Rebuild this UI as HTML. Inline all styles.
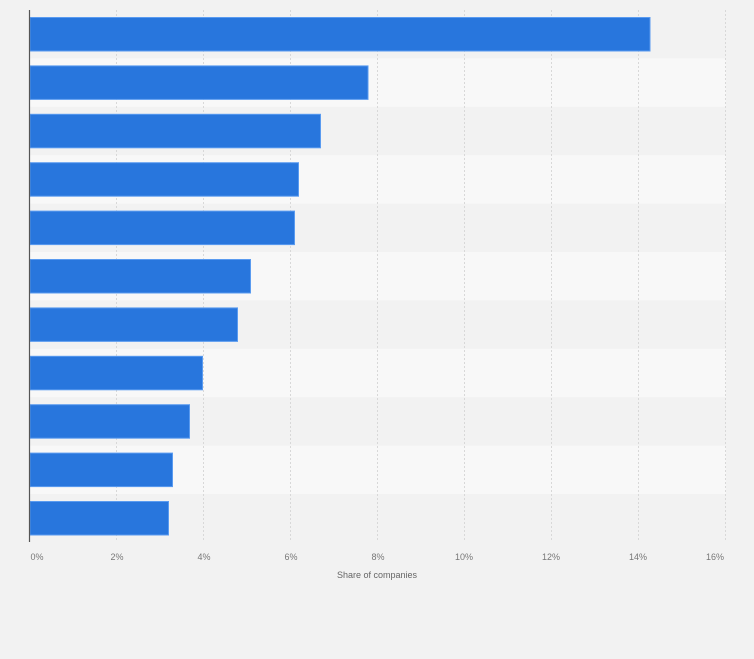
<!DOCTYPE html>
<html><head><style>
body{margin:0;background:#f2f2f2;}
svg{display:block;font-family:"Liberation Sans",sans-serif;}
</style></head><body>
<svg width="754" height="659" viewBox="0 0 754 659">
<rect width="754" height="659" fill="#f2f2f2"/>
<g fill="#f8f8f8">
<rect x="30" y="58.4" width="696" height="48.4"/>
<rect x="30" y="155.2" width="696" height="48.4"/>
<rect x="30" y="252" width="696" height="48.4"/>
<rect x="30" y="348.8" width="696" height="48.4"/>
<rect x="30" y="445.6" width="696" height="48.4"/>
</g>
<g stroke="#d8d8d8" stroke-dasharray="2,2" stroke-width="1">
<line x1="116.5" y1="10" x2="116.5" y2="542"/>
<line x1="203.5" y1="10" x2="203.5" y2="542"/>
<line x1="290.5" y1="10" x2="290.5" y2="542"/>
<line x1="377.5" y1="10" x2="377.5" y2="542"/>
<line x1="464.5" y1="10" x2="464.5" y2="542"/>
<line x1="551.5" y1="10" x2="551.5" y2="542"/>
<line x1="638.5" y1="10" x2="638.5" y2="542"/>
<line x1="725.5" y1="10" x2="725.5" y2="542"/>
</g>
<g fill="#2876dd" stroke="#5a9bf0" stroke-width="1">
<rect x="30" y="17.5" width="620" height="33.5"/>
<rect x="30" y="65.9" width="338" height="33.5"/>
<rect x="30" y="114.3" width="290.5" height="33.5"/>
<rect x="30" y="162.7" width="268.5" height="33.5"/>
<rect x="30" y="211.1" width="264.5" height="33.5"/>
<rect x="30" y="259.5" width="220.5" height="33.5"/>
<rect x="30" y="307.9" width="207.5" height="33.5"/>
<rect x="30" y="356.3" width="172.5" height="33.5"/>
<rect x="30" y="404.7" width="159.5" height="33.5"/>
<rect x="30" y="453.1" width="142.5" height="33.5"/>
<rect x="30" y="501.5" width="138.5" height="33.5"/>
</g>
<line x1="29.5" y1="10" x2="29.5" y2="542" stroke="#555" stroke-width="1.2"/>
<g fill="#777" font-size="9" text-anchor="middle">
<text x="37" y="560">0%</text>
<text x="117" y="560">2%</text>
<text x="204" y="560">4%</text>
<text x="291" y="560">6%</text>
<text x="378" y="560">8%</text>
<text x="464" y="560">10%</text>
<text x="551" y="560">12%</text>
<text x="638" y="560">14%</text>
<text x="715" y="560">16%</text>
<text x="377" y="578" fill="#666">Share of companies</text>
</g>
</svg>
</body></html>
